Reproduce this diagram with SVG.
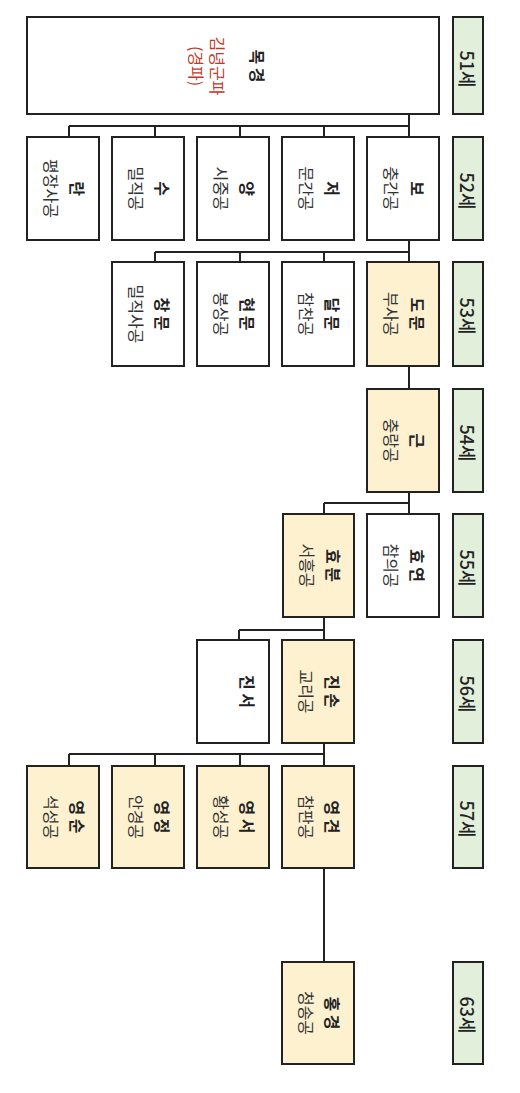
<svg xmlns="http://www.w3.org/2000/svg" width="520" height="1093" viewBox="0 0 520 1093">
<style>
.bx{fill:#ffffff;stroke:#222;stroke-width:2}
.y{fill:#fdf1d0}
.age{fill:#e1efdb;stroke:#222;stroke-width:2}
text{font-family:"Noto Sans CJK KR","Noto Sans",sans-serif;font-size:16px;text-anchor:middle;dominant-baseline:central;fill:#222}
.n{font-weight:bold}
.t{fill:#333}
.r{fill:#c0392b}
.a{font-size:18px;font-weight:500}
#connectors path{fill:none;stroke:#222;stroke-width:2}
</style>
<rect width="520" height="1093" fill="#ffffff"/>
<g id="connectors">
<path d="M409,114V126M69,126H409M69,126V137M155,126V137M240,126V137M324,126V137M409,126V137"/>
<path d="M409,240V252M155,252H409M155,252V262M240,252V262M324,252V262M409,252V262"/>
<path d="M409,366V389"/>
<path d="M409,492V503M324,503H409M324,503V514M409,503V514"/>
<path d="M324,617V630M239,630H324M239,630V640M324,630V640"/>
<path d="M324,743V754M69,754H324M69,754V766M155,754V766M240,754V766M324,754V766"/>
<path d="M324,868V962"/>
</g>
<g id="ages">
<g id="age51"><rect class="age" x="453" y="17" width="30" height="97"/><text class="a" transform="translate(468,69) rotate(90)">51세</text></g>
<g id="age52"><rect class="age" x="453" y="137" width="30" height="103"/><text class="a" transform="translate(468,191) rotate(90)">52세</text></g>
<g id="age53"><rect class="age" x="453" y="262" width="30" height="104"/><text class="a" transform="translate(468,316) rotate(90)">53세</text></g>
<g id="age54"><rect class="age" x="453" y="389" width="30" height="103"/><text class="a" transform="translate(468,443) rotate(90)">54세</text></g>
<g id="age55"><rect class="age" x="453" y="514" width="30" height="103"/><text class="a" transform="translate(468,568) rotate(90)">55세</text></g>
<g id="age56"><rect class="age" x="453" y="640" width="30" height="103"/><text class="a" transform="translate(468,694) rotate(90)">56세</text></g>
<g id="age57"><rect class="age" x="453" y="766" width="30" height="102"/><text class="a" transform="translate(468,819) rotate(90)">57세</text></g>
<g id="age63"><rect class="age" x="453" y="962" width="30" height="102"/><text class="a" transform="translate(468,1015) rotate(90)">63세</text></g>
</g>
<g id="mokgyeong"><rect class="bx" x="27" y="17" width="412" height="97"/>
<g transform="translate(233,66) rotate(90)"><text class="n" y="-25">목 경</text><text class="r" y="15">김녕군파</text><text class="r" y="36">(경파)</text></g></g>
<g id="bo"><rect class="bx" x="367" y="137" width="72" height="103"/>
<g transform="translate(403,188.5) rotate(90)"><text class="n" y="-15">보</text><text class="t" y="11">충간공</text></g></g>
<g id="jeo"><rect class="bx" x="282" y="137" width="72" height="103"/>
<g transform="translate(318,188.5) rotate(90)"><text class="n" y="-15">저</text><text class="t" y="11">문간공</text></g></g>
<g id="yang"><rect class="bx" x="197" y="137" width="72" height="103"/>
<g transform="translate(233,188.5) rotate(90)"><text class="n" y="-15">양</text><text class="t" y="11">시중공</text></g></g>
<g id="su"><rect class="bx" x="112" y="137" width="72" height="103"/>
<g transform="translate(148,188.5) rotate(90)"><text class="n" y="-15">수</text><text class="t" y="11">밀직공</text></g></g>
<g id="ran"><rect class="bx" x="27" y="137" width="72" height="103"/>
<g transform="translate(63,188.5) rotate(90)"><text class="n" y="-15">란</text><text class="t" y="11">평장사공</text></g></g>
<g id="domun"><rect class="bx y" x="367" y="262" width="72" height="104"/>
<g transform="translate(403,314) rotate(90)"><text class="n" y="-15">도 문</text><text class="t" y="11">부사공</text></g></g>
<g id="dalmun"><rect class="bx" x="282" y="262" width="72" height="104"/>
<g transform="translate(318,314) rotate(90)"><text class="n" y="-15">달 문</text><text class="t" y="11">참찬공</text></g></g>
<g id="hyeonmun"><rect class="bx" x="197" y="262" width="72" height="104"/>
<g transform="translate(233,314) rotate(90)"><text class="n" y="-15">현 문</text><text class="t" y="11">봉상공</text></g></g>
<g id="changmun"><rect class="bx" x="112" y="262" width="72" height="104"/>
<g transform="translate(148,314) rotate(90)"><text class="n" y="-15">창 문</text><text class="t" y="11">밀직사공</text></g></g>
<g id="geun"><rect class="bx y" x="367" y="389" width="72" height="103"/>
<g transform="translate(403,440.5) rotate(90)"><text class="n" y="-15">근</text><text class="t" y="11">충랑공</text></g></g>
<g id="hyoyeon"><rect class="bx" x="367" y="514" width="72" height="103"/>
<g transform="translate(403,565.5) rotate(90)"><text class="n" y="-15">효 연</text><text class="t" y="11">참의공</text></g></g>
<g id="hyobun"><rect class="bx y" x="283" y="514" width="71" height="103"/>
<g transform="translate(318.5,565.5) rotate(90)"><text class="n" y="-15">효 분</text><text class="t" y="11">서흥공</text></g></g>
<g id="jinson"><rect class="bx y" x="282" y="640" width="72" height="103"/>
<g transform="translate(318,691.5) rotate(90)"><text class="n" y="-15">진 손</text><text class="t" y="11">교리공</text></g></g>
<g id="jinseo"><rect class="bx" x="197" y="640" width="72" height="103"/>
<g transform="translate(233,691.5) rotate(90)"><text class="n" y="-15">진 서</text></g></g>
<g id="yeonggyeon"><rect class="bx y" x="282" y="766" width="72" height="102"/>
<g transform="translate(318,817) rotate(90)"><text class="n" y="-15">영 견</text><text class="t" y="11">참판공</text></g></g>
<g id="yeongseo"><rect class="bx y" x="197" y="766" width="72" height="102"/>
<g transform="translate(233,817) rotate(90)"><text class="n" y="-15">영 서</text><text class="t" y="11">황성공</text></g></g>
<g id="yeongjeong"><rect class="bx y" x="112" y="766" width="72" height="102"/>
<g transform="translate(148,817) rotate(90)"><text class="n" y="-15">영 정</text><text class="t" y="11">안경공</text></g></g>
<g id="yeongsun"><rect class="bx y" x="27" y="766" width="72" height="102"/>
<g transform="translate(63,817) rotate(90)"><text class="n" y="-15">영 순</text><text class="t" y="11">석성공</text></g></g>
<g id="honggyeong"><rect class="bx y" x="282" y="962" width="72" height="102"/>
<g transform="translate(318,1013) rotate(90)"><text class="n" y="-15">홍 경</text><text class="t" y="11">청송공</text></g></g>
</svg>
